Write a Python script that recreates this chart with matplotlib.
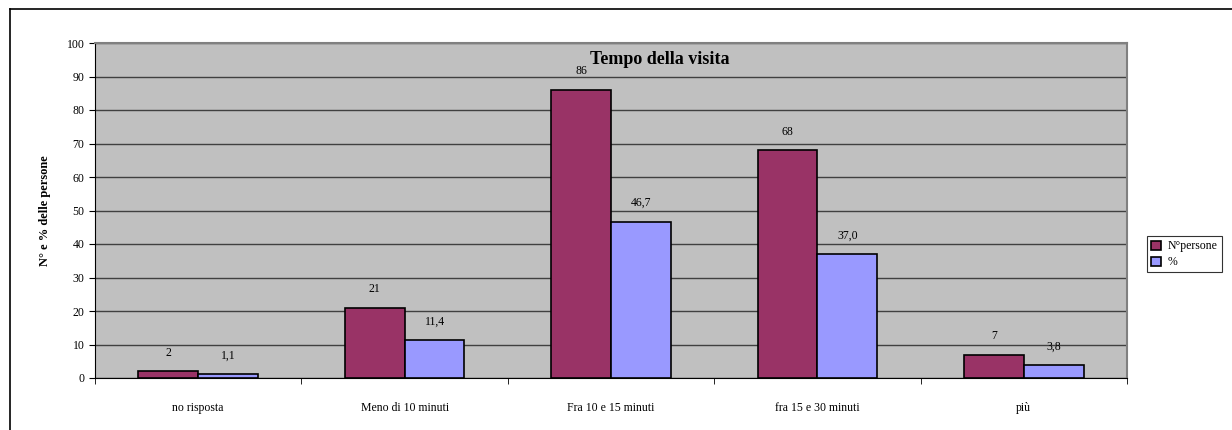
import matplotlib
matplotlib.use("Agg")
import matplotlib.pyplot as plt
import numpy as np
from matplotlib.lines import Line2D

categories = ["no risposta", "Meno di 10 minuti", "Fra 10 e 15 minuti", "fra 15 e 30 minuti", "più"]
persone = [2, 21, 86, 68, 7]
percent = [1.1, 11.4, 46.7, 37.0, 3.8]
series_names = ["N°persone", "%"]

plt.rcParams['font.family'] = ['Liberation Serif', 'DejaVu Serif']

fig = plt.figure(figsize=(12.32, 4.3), dpi=100)
ax = fig.add_axes([95/1232, 1-378/430, (1127-95)/1232, (378-43)/430])
ax.set_facecolor('#C0C0C0')

x = np.arange(len(categories))
w = 0.29
b1 = ax.bar(x - w/2, persone, w, color='#993366', edgecolor='black', linewidth=1.2, label=series_names[0], zorder=3)
b2 = ax.bar(x + w/2, percent, w, color='#9999FF', edgecolor='black', linewidth=1.2, label=series_names[1], zorder=3)

for xi, v in zip(x - w/2, persone):
    ax.annotate(f"{v}", (xi, v), xytext=(0, 9), textcoords='offset points', ha='center', va='bottom', fontsize=8.5)
for xi, v in zip(x + w/2, percent):
    ax.annotate(f"{v:.1f}".replace('.', ','), (xi, v), xytext=(0, 9), textcoords='offset points', ha='center', va='bottom', fontsize=8.5)

ax.set_xlim(-0.5, len(categories) - 0.5)
ax.set_ylim(0, 100)
ax.set_yticks(np.arange(0, 101, 10))
ax.yaxis.grid(True, color='#404040', linewidth=1, zorder=1)
ax.set_axisbelow(True)
ax.set_xticks(x)
ax.set_xticklabels(categories, fontsize=8.5)
ax.set_xticks(np.arange(-0.5, len(categories), 1), minor=True)
ax.tick_params(axis='x', which='major', length=0, pad=17)
ax.tick_params(axis='x', which='minor', length=4, direction='out')
ax.tick_params(axis='y', labelsize=8.5, length=4, direction='out')
for s in ['top', 'right']:
    ax.spines[s].set_color('#808080')
ax.spines['right'].set_linewidth(1.5)
ax.spines['top'].set_linewidth(1.5)

ax.set_ylabel("N° e % delle persone", fontsize=9, fontweight='bold', labelpad=11)
ax.text(0.547, 0.975, "Tempo della visita", transform=ax.transAxes, ha='center', va='top', fontsize=13, fontweight='bold')

leg = fig.legend(handles=[b1, b2], labels=series_names, loc='upper left',
                 bbox_to_anchor=(1147/1232, 1-236/430), fontsize=8.5, frameon=True,
                 fancybox=False, edgecolor='black', handlelength=0.8, handleheight=0.8,
                 borderpad=0.35, labelspacing=0.35, handletextpad=0.6, borderaxespad=0)
leg.get_frame().set_linewidth(0.8)

# outer frame
fig.add_artist(Line2D([9.5/1232, 9.5/1232], [0, 1-8.5/430], transform=fig.transFigure, color='black', linewidth=1.2))
fig.add_artist(Line2D([9.5/1232, 1], [1-8.5/430, 1-8.5/430], transform=fig.transFigure, color='black', linewidth=1.2))

fig.savefig("out.png", dpi=100)
